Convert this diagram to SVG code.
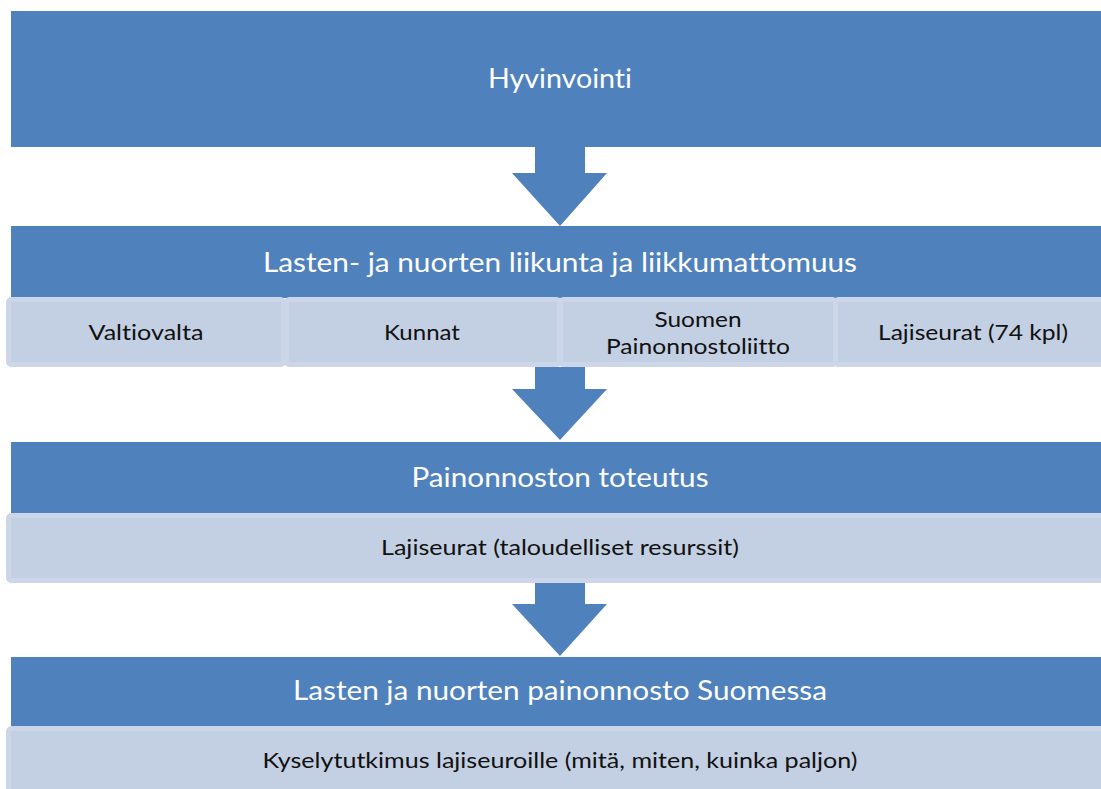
<svg xmlns="http://www.w3.org/2000/svg" width="1101" height="789" viewBox="0 0 1101 789">
<style>
.main{fill:#4F81BD;}
.sub{fill:#C3CFE2;stroke:#CDD6E8;stroke-width:5;}
.arrow{fill:#4F81BD;}
.ht{font-family:Lato,"Open Sans",sans-serif;font-size:26px;fill:#FFFFFF;text-anchor:middle;font-variant-ligatures:none;font-feature-settings:"liga" 0,"clig" 0,"dlig" 0,"calt" 0;}
.st{font-family:Lato,"Open Sans",sans-serif;font-size:20.5px;fill:#111111;text-anchor:middle;font-variant-ligatures:none;font-feature-settings:"liga" 0,"clig" 0,"dlig" 0,"calt" 0;}
</style>
<rect width="1101" height="789" fill="#FFFFFF"/>
<g id="connectors">
<polygon class="arrow" points="535,147 585,147 585,173 607,173 560,226 512,173 535,173"/>
<polygon class="arrow" points="535,367 585,367 585,389 607,389 560,440 512,389 535,389"/>
<polygon class="arrow" points="535,583 585,583 585,604 607,604 560,656 512,604 535,604"/>
</g>
<g id="node-hyvinvointi">
<rect class="main" x="11" y="11" width="1100" height="136"/>
<text class="ht" x="560" y="88" textLength="144" lengthAdjust="spacingAndGlyphs">Hyvinvointi</text>
</g>
<g id="node-liikunta">
<rect class="main" x="11" y="226" width="1100" height="72"/>
<text class="ht" x="560" y="272" textLength="594" lengthAdjust="spacingAndGlyphs">Lasten- ja nuorten liikunta ja liikkumattomuus</text>
</g>
<g id="node-valtiovalta">
<rect class="sub" x="8.5" y="299.5" width="275" height="65" rx="3"/>
<text class="st" x="146" y="340" textLength="115" lengthAdjust="spacingAndGlyphs">Valtiovalta</text>
</g>
<g id="node-kunnat">
<rect class="sub" x="286.5" y="299.5" width="273" height="65" rx="3"/>
<text class="st" x="422" y="340" textLength="76" lengthAdjust="spacingAndGlyphs">Kunnat</text>
</g>
<g id="node-spl">
<rect class="sub" x="560.5" y="299.5" width="275" height="65" rx="3"/>
<text class="st" x="698" y="327" textLength="87" lengthAdjust="spacingAndGlyphs">Suomen</text>
<text class="st" x="698" y="354" textLength="184" lengthAdjust="spacingAndGlyphs">Painonnostoliitto</text>
</g>
<g id="node-lajiseurat74">
<rect class="sub" x="835.5" y="299.5" width="275" height="65" rx="3"/>
<text class="st" x="973" y="340" textLength="190" lengthAdjust="spacingAndGlyphs">Lajiseurat (74 kpl)</text>
</g>
<g id="node-toteutus">
<rect class="main" x="11" y="442" width="1100" height="71"/>
<text class="ht" x="560" y="487" textLength="297" lengthAdjust="spacingAndGlyphs">Painonnoston toteutus</text>
</g>
<g id="node-resurssit">
<rect class="sub" x="8.5" y="515.5" width="1102" height="65" rx="3"/>
<text class="st" x="560" y="555" textLength="358" lengthAdjust="spacingAndGlyphs">Lajiseurat (taloudelliset resurssit)</text>
</g>
<g id="node-suomessa">
<rect class="main" x="11" y="657" width="1100" height="70"/>
<text class="ht" x="560" y="700" textLength="534" lengthAdjust="spacingAndGlyphs">Lasten ja nuorten painonnosto Suomessa</text>
</g>
<g id="node-kysely">
<rect class="sub" x="8.5" y="728.5" width="1102" height="70" rx="3"/>
<text class="st" x="560" y="768" textLength="595" lengthAdjust="spacingAndGlyphs">Kyselytutkimus lajiseuroille (mitä, miten, kuinka paljon)</text>
</g>
</svg>
